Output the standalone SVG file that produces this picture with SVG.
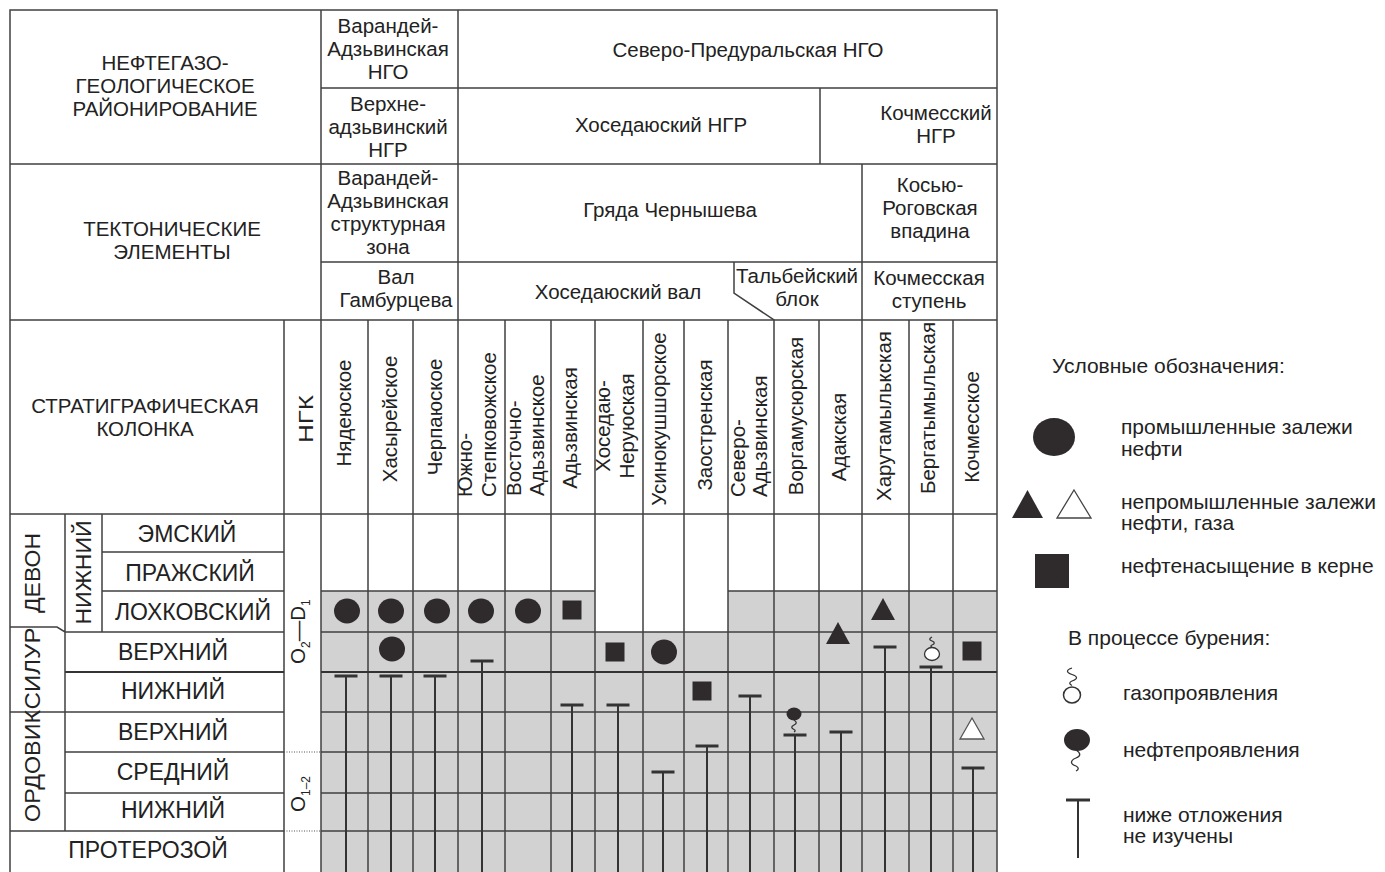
<svg xmlns="http://www.w3.org/2000/svg" xmlns:xlink="http://www.w3.org/1999/xlink" width="1385" height="872" viewBox="0 0 1385 872">
<style>
.ln{stroke:#404040;stroke-width:1.5;fill:none}
.thk{stroke:#333;stroke-width:2;fill:none}
.dot{stroke:#555;stroke-width:1.2;stroke-dasharray:1 1.5;fill:none}
.t{font-family:"Liberation Sans",Arial,sans-serif;fill:#222;font-size:20.5px}
.m{text-anchor:middle}
.s{text-anchor:start}
.cap{font-size:20.5px}
.big{font-size:23px}
.sys{font-size:22px}
.lg{font-size:21px}
.fill{fill:#2f2b2c}
.bar{stroke:#333;stroke-width:3;fill:none}
.stem{stroke:#333;stroke-width:2;fill:none}
.sq{stroke:#333;stroke-width:1.3;fill:none}
.shade{fill:#d2d2d2}
</style>
<defs>
<ellipse id="oil" cx="0" cy="0" rx="13" ry="12.5" class="fill"/>
<rect id="sqr" x="-9.5" y="-9.5" width="19" height="19" class="fill"/>
<polygon id="tri" points="0,-11 12,11 -12,11" class="fill"/>
</defs>
<rect width="1385" height="872" fill="#fff"/>

<g id="shading">
<rect class="shade" x="321" y="591" width="274" height="41"/>
<rect class="shade" x="728" y="591" width="269" height="41"/>
<rect class="shade" x="321" y="632" width="676" height="240"/>
</g>

<g id="connectors">
<rect class="ln" x="10" y="10" width="987" height="875"/>
<path class="ln" d="M10,164H997M10,320H997M10,514H997M321,88H997M321,262H997"/>
<path class="ln" d="M321,10V872M458,10V872M820,88V164M862,164V872M734,262V293L774,320V872"/>
<path class="ln" d="M284,320V872M368,320V872M413,320V872M505,320V872M551,320V872M595,320V872M643,320V872M684,320V872M728,320V872M819,320V872M909,320V872M953,320V872"/>
<path class="ln" d="M321,591H595M728,591H997M321,632H997M321,712H997M321,752H997M321,793H997M321,831H997"/>
<path class="thk" d="M321,672H997M65,672H284"/>
<path class="ln" d="M65,514V831M102,514V632M102,552H284M102,591H284M10,627H57L65,632H284M10,712H284M65,752H284M65,793H284M10,831H284"/>
<path class="dot" d="M284,752H321M284,831H321"/>
</g>

<g id="header-left">
<text class="t m cap" x="165" y="70">НЕФТЕГАЗО-</text>
<text class="t m cap" x="165" y="93">ГЕОЛОГИЧЕСКОЕ</text>
<text class="t m cap" x="165" y="116">РАЙОНИРОВАНИЕ</text>
<text class="t m cap" x="172" y="236">ТЕКТОНИЧЕСКИЕ</text>
<text class="t m cap" x="172" y="259">ЭЛЕМЕНТЫ</text>
<text class="t m cap" x="145" y="413">СТРАТИГРАФИЧЕСКАЯ</text>
<text class="t m cap" x="145" y="436">КОЛОНКА</text>
</g>

<g id="ngo">
<text class="t m" x="388" y="33">Варандей-</text>
<text class="t m" x="388" y="56">Адзьвинская</text>
<text class="t m" x="388" y="79">НГО</text>
<text class="t m" x="748" y="57">Северо-Предуральская НГО</text>
</g>
<g id="ngr">
<text class="t m" x="388" y="111">Верхне-</text>
<text class="t m" x="388" y="134">адзьвинский</text>
<text class="t m" x="388" y="157">НГР</text>
<text class="t m" x="661" y="132">Хоседаюский НГР</text>
<text class="t m" x="936" y="120">Кочмесский</text>
<text class="t m" x="936" y="143">НГР</text>
</g>
<g id="tectonic">
<text class="t m" x="388" y="185">Варандей-</text>
<text class="t m" x="388" y="208">Адзьвинская</text>
<text class="t m" x="388" y="231">структурная</text>
<text class="t m" x="388" y="254">зона</text>
<text class="t m" x="670" y="217">Гряда Чернышева</text>
<text class="t m" x="930" y="192">Косью-</text>
<text class="t m" x="930" y="215">Роговская</text>
<text class="t m" x="930" y="238">впадина</text>
<text class="t m" x="396" y="284">Вал</text>
<text class="t m" x="396" y="307">Гамбурцева</text>
<text class="t m" x="618" y="299">Хоседаюский вал</text>
<text class="t m" x="797" y="283">Тальбейский</text>
<text class="t m" x="797" y="306">блок</text>
<text class="t m" x="929" y="285">Кочмесская</text>
<text class="t m" x="929" y="308">ступень</text>
</g>

<g id="fields">
<text class="t" font-size="20" transform="translate(313,419) rotate(-90)" text-anchor="middle" textLength="48" lengthAdjust="spacingAndGlyphs">НГК</text>
<text class="t m" transform="translate(351,413) rotate(-90)">Нядеюское</text>
<text class="t m" transform="translate(397,419) rotate(-90)">Хасырейское</text>
<text class="t m" transform="translate(442,417) rotate(-90)">Черпаюское</text>
<text class="t s" transform="translate(472,497) rotate(-90)">Южно-</text>
<text class="t s" transform="translate(496,497) rotate(-90)">Степковожское</text>
<text class="t s" transform="translate(521,496) rotate(-90)">Восточно-</text>
<text class="t s" transform="translate(544,496) rotate(-90)">Адьзвинское</text>
<text class="t m" transform="translate(577,428) rotate(-90)">Адьзвинская</text>
<text class="t m" transform="translate(610,426) rotate(-90)">Хоседаю-</text>
<text class="t m" transform="translate(634,426) rotate(-90)">Неруюская</text>
<text class="t m" transform="translate(666,419) rotate(-90)">Усинокушшорское</text>
<text class="t m" transform="translate(712,425) rotate(-90)">Заостренская</text>
<text class="t s" transform="translate(745,497) rotate(-90)">Северо-</text>
<text class="t s" transform="translate(767,497) rotate(-90)">Адьзвинская</text>
<text class="t m" transform="translate(803,416) rotate(-90)">Воргамусюрская</text>
<text class="t m" transform="translate(846,437) rotate(-90)">Адакская</text>
<text class="t m" transform="translate(891,416) rotate(-90)">Харутамылькская</text>
<text class="t m" transform="translate(935,408) rotate(-90)">Бергатымыльская</text>
<text class="t m" transform="translate(979,427) rotate(-90)">Кочмесское</text>
</g>

<g id="strat">
<text class="t m sys" transform="translate(40,573) rotate(-90)" textLength="80" lengthAdjust="spacingAndGlyphs">ДЕВОН</text>
<text class="t m sys" transform="translate(40,668.5) rotate(-90)" textLength="82" lengthAdjust="spacingAndGlyphs">СИЛУР</text>
<text class="t m sys" transform="translate(40,766) rotate(-90)" textLength="112" lengthAdjust="spacingAndGlyphs">ОРДОВИК</text>
<text class="t m sys" transform="translate(91,572.5) rotate(-90)" textLength="104" lengthAdjust="spacingAndGlyphs">НИЖНИЙ</text>
<text class="t m big" x="187" y="542">ЭМСКИЙ</text>
<text class="t m big" x="190" y="581">ПРАЖСКИЙ</text>
<text class="t m big" x="193" y="620">ЛОХКОВСКИЙ</text>
<text class="t m big" x="173" y="660">ВЕРХНИЙ</text>
<text class="t m big" x="173" y="699">НИЖНИЙ</text>
<text class="t m big" x="173" y="740">ВЕРХНИЙ</text>
<text class="t m big" x="173" y="780">СРЕДНИЙ</text>
<text class="t m big" x="173" y="818">НИЖНИЙ</text>
<text class="t m big" x="148" y="858">ПРОТЕРОЗОЙ</text>
<text class="t s" font-size="19" transform="translate(305,664) rotate(-90)">O<tspan font-size="12" dy="5">2</tspan><tspan dy="-5">—D</tspan><tspan font-size="12" dy="5">1</tspan></text>
<text class="t s" font-size="19" transform="translate(305,812) rotate(-90)">O<tspan font-size="12" dy="5">1–2</tspan></text>
</g>

<g id="symbols">
<use xlink:href="#oil" x="347" y="611"/>
<use xlink:href="#oil" x="391" y="611"/>
<use xlink:href="#oil" x="437" y="611"/>
<use xlink:href="#oil" x="481" y="611"/>
<use xlink:href="#oil" x="528" y="611"/>
<use xlink:href="#oil" x="392" y="649"/>
<use xlink:href="#oil" x="664" y="652"/>
<use xlink:href="#sqr" x="572" y="610"/>
<use xlink:href="#sqr" x="615" y="652"/>
<use xlink:href="#sqr" x="702" y="691"/>
<use xlink:href="#sqr" x="972" y="651"/>
<use xlink:href="#tri" x="838" y="633"/>
<use xlink:href="#tri" x="883" y="609"/>
<polygon points="972,718 984,739 960,739" fill="#fff" stroke="#555" stroke-width="1.3"/>
<path class="sq" d="M932,637c-3,1.5 -3,3 0,4c3,1 3,3 0,4c-1.5,.6 -1.5,1.5 0,2"/>
<ellipse cx="932" cy="654" rx="7.5" ry="6.5" fill="#fff" stroke="#333" stroke-width="1.3"/>
<ellipse cx="794" cy="714" rx="7.5" ry="6.5" class="fill"/>
<path class="sq" d="M794,720c3,2 3,3.5 0,5c-3,1.5 -3,3 0,4.5c1.5,.8 1.5,1.6 0,2.5"/>
</g>

<g id="t-marks">
<path class="bar" d="M334.5,676h23M379.5,676h23M423.5,676h23M470.5,661h23M560.5,705h23M606.5,705h23M651.5,772h23M695.5,746h23M738.5,696h23M783.5,735h23M829.5,732h23M873.5,647h23M919.5,667h23M961.5,768h23"/>
<path class="stem" d="M346,676V872M391,676V872M435,676V872M482,661V872M572,705V872M618,705V872M663,772V872M707,746V872M750,696V872M795,735V872M841,732V872M885,647V872M931,667V872M973,768V872"/>
</g>

<g id="legend">
<text class="t s lg" x="1052" y="373">Условные обозначения:</text>
<ellipse cx="1054" cy="437" rx="21" ry="19" class="fill"/>
<text class="t s lg" x="1121" y="434">промышленные залежи</text>
<text class="t s lg" x="1121" y="456">нефти</text>
<polygon points="1027.5,490 1043,518 1012,518" class="fill"/>
<polygon points="1074,490 1091,518 1057,518" fill="#fff" stroke="#444" stroke-width="1.3"/>
<text class="t s lg" x="1121" y="509">непромышленные залежи</text>
<text class="t s lg" x="1121" y="530">нефти, газа</text>
<rect x="1035" y="554" width="34" height="34" class="fill"/>
<text class="t s lg" x="1121" y="573">нефтенасыщение в керне</text>
<text class="t s lg" x="1068" y="645">В процессе бурения:</text>
<path class="sq" d="M1072,668c-6,2 -6,4.5 0,6.5c6,2 6,4.5 0,6.5c-3,1.2 -3,3 0,4.5"/>
<ellipse cx="1072" cy="695" rx="8.5" ry="8" fill="#fff" stroke="#333" stroke-width="1.5"/>
<text class="t s lg" x="1123" y="700">газопроявления</text>
<ellipse cx="1077" cy="740" rx="13" ry="11" class="fill"/>
<path class="sq" d="M1076,750c5,3 5,6 0,8c-6,2.5 -6,6 0,8c3,1.5 3,3.5 0,5"/>
<text class="t s lg" x="1123" y="757">нефтепроявления</text>
<path class="bar" d="M1066,800h24"/>
<path class="stem" d="M1078,800V858"/>
<text class="t s lg" x="1123" y="822">ниже отложения</text>
<text class="t s lg" x="1123" y="843">не изучены</text>
</g>
</svg>
